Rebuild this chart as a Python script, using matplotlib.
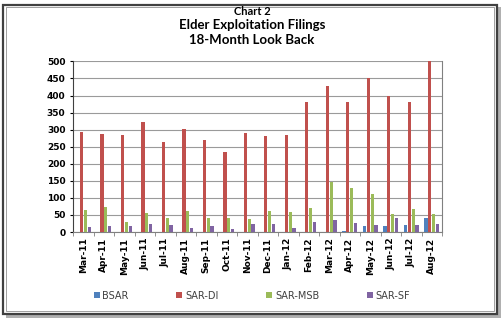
import matplotlib.pyplot as plt
import numpy as np
from matplotlib.patches import Rectangle

months = ["Mar-11", "Apr-11", "May-11", "Jun-11", "Jul-11", "Aug-11", "Sep-11",
          "Oct-11", "Nov-11", "Dec-11", "Jan-12", "Feb-12", "Mar-12", "Apr-12",
          "May-12", "Jun-12", "Jul-12", "Aug-12"]
bsar = [0, 0, 0, 0, 0, 0, 0, 0, 0, 0, 0, 0, 1, 3, 17, 18, 20, 40]
sar_di = [293, 287, 284, 322, 265, 302, 270, 235, 290, 282, 284, 381,
          428, 381, 451, 400, 382, 500]
sar_msb = [64, 72, 30, 55, 40, 63, 42, 41, 38, 62, 60, 71, 146, 128,
           112, 53, 68, 53]
sar_sf = [15, 17, 19, 25, 20, 13, 17, 9, 23, 24, 12, 29, 34, 26, 22,
          40, 20, 24]

series = [("BSAR", bsar, "#4F81BD"), ("SAR-DI", sar_di, "#C0504D"),
          ("SAR-MSB", sar_msb, "#9BBB59"), ("SAR-SF", sar_sf, "#8064A2")]

fig = plt.figure(figsize=(5.04, 3.25), dpi=100)
fig.patch.set_facecolor("white")

# frame with drop shadow
fig.patches.append(Rectangle((0.012, 0.022), 0.982, 0.955, transform=fig.transFigure,
                             facecolor="#b0b0b0", edgecolor="none", zorder=-3))
fig.patches.append(Rectangle((0.006, 0.034), 0.980, 0.952, transform=fig.transFigure,
                             facecolor="white", edgecolor="#404040", lw=1.6, zorder=-2))
fig.patches.append(Rectangle((0.011, 0.042), 0.970, 0.936, transform=fig.transFigure,
                             facecolor="none", edgecolor="#909090", lw=0.6, zorder=-1))

tfont = ["Lato", "DejaVu Sans"]
fig.text(0.5, 0.965, "Chart 2", ha="center", va="center", fontsize=8,
         fontweight="bold", family=tfont)
fig.text(0.5, 0.922, "Elder Exploitation Filings", ha="center", va="center",
         fontsize=9.5, fontweight="bold", family=tfont)
fig.text(0.5, 0.876, "18-Month Look Back", ha="center", va="center",
         fontsize=9.5, fontweight="bold", family=tfont)

ax = fig.add_axes([0.145, 0.286, 0.732, 0.525])
ax.set_zorder(2)
ax.patch.set_alpha(0)
x = np.arange(len(months))
w = 0.19
for i, (name, vals, col) in enumerate(series):
    ax.bar(x + (i - 1.5) * w, vals, width=w * 0.85, color=col, label=name,
           edgecolor="none", zorder=3)

ax.set_xlim(-0.5, len(months) - 0.5)
ax.set_ylim(0, 500)
ax.set_yticks(range(0, 501, 50))
ax.yaxis.grid(True, color="#9a9a9a", lw=0.8, zorder=0)
ax.set_xticks(x)
ax.set_xticks(np.arange(len(months) + 1) - 0.5, minor=True)
ax.set_xticklabels(months, rotation=90, fontsize=6.5, fontweight="bold")
ax.tick_params(axis="y", labelsize=6.5, length=2)
ax.tick_params(axis="x", which="major", length=0, pad=4)
ax.tick_params(axis="x", which="minor", length=3, color="#808080")
for lbl in ax.get_yticklabels():
    lbl.set_fontweight("bold")
ax.spines["top"].set_visible(False)
ax.spines["right"].set_color("#808080")
ax.spines["left"].set_color("#404040")
ax.spines["bottom"].set_color("#808080")

leg = fig.legend(loc="center", bbox_to_anchor=(0.5, 0.09), ncol=4, frameon=False,
                 fontsize=7, handlelength=0.6, handleheight=0.6, columnspacing=4.9,
                 handletextpad=0.3, labelcolor="#404040")
leg.set_zorder(3)

fig.savefig("out.png", dpi=100)
